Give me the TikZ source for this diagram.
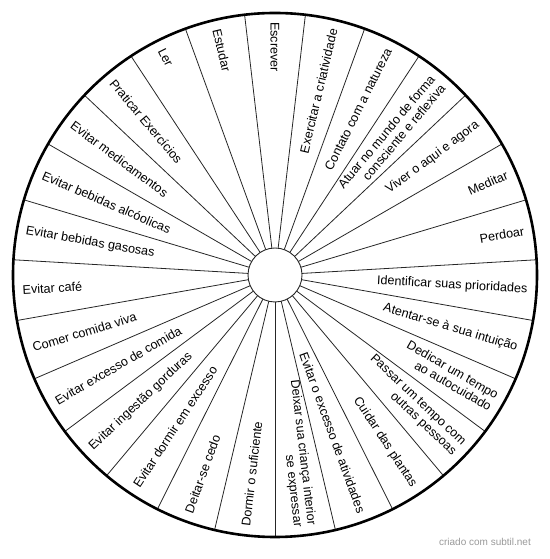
\documentclass[tikz,border=0pt]{standalone}
\usepackage{fontspec}
\setmainfont{Liberation Sans}
\begin{document}
\begin{tikzpicture}[x=1bp,y=1bp,
  lbl/.style={font=\fontsize{12.6bp}{13.8bp}\selectfont, inner sep=0pt},
  outw/.style={lbl, anchor=east, align=right},
  inw/.style={lbl, anchor=west, align=left},
  spoke/.style={line width=0.8bp, draw=black!85},
  rim/.style={line width=2.6bp, draw=black},
  hub/.style={line width=0.9bp, draw=black!85, fill=white}]
\useasboundingbox (0,0) rectangle (550,559);
\begin{scope}[shift={(275,284)}]
  \foreach \k in {0,...,26}
    \draw[spoke] (3.3333+13.3333*\k:27) -- (3.3333+13.3333*\k:262);
  \draw[rim] (0,0) circle[radius=262];
  \draw[hub] (0,0) circle[radius=27];
  \def\R{253}
  \node[outw,rotate=10]       (t0)  at (10:\R)       {Perdoar};
  \node[outw,rotate=23.333]   (t1)  at (23.333:\R)   {Meditar};
  \node[outw,rotate=36.667]   (t2)  at (36.667:\R)   {Viver o aqui e agora};
  \node[outw,rotate=50]       (t3)  at (50:\R)       {Atuar no mundo de forma\\consciente e reflexiva};
  \node[outw,rotate=63.333]   (t4)  at (63.333:\R)   {Contato com a natureza};
  \node[outw,rotate=76.667]   (t5)  at (76.667:\R)   {Exercitar a criatividade};
  \node[inw,rotate=270]       (t6)  at (90:\R)       {Escrever};
  \node[inw,rotate=283.333]   (t7)  at (103.333:\R)  {Estudar};
  \node[inw,rotate=296.667]   (t8)  at (116.667:\R)  {Ler};
  \node[inw,rotate=310]       (t9)  at (130:\R)      {Praticar Exercícios};
  \node[inw,rotate=323.333]   (t10) at (143.333:\R)  {Evitar medicamentos};
  \node[inw,rotate=336.667]   (t11) at (156.667:\R)  {Evitar bebidas alcóolicas};
  \node[inw,rotate=350]       (t12) at (170:\R)      {Evitar bebidas gasosas};
  \node[inw,rotate=3.333]     (t13) at (183.333:\R)  {Evitar café};
  \node[inw,rotate=16.667]    (t14) at (196.667:\R)  {Comer comida viva};
  \node[inw,rotate=30]        (t15) at (210:\R)      {Evitar excesso de comida};
  \node[inw,rotate=43.333]    (t16) at (223.333:\R)  {Evitar ingestão gorduras};
  \node[inw,rotate=56.667]    (t17) at (236.667:\R)  {Evitar dormir em excesso};
  \node[inw,rotate=70]        (t18) at (250:\R)      {Deitar-se cedo};
  \node[inw,rotate=83.333]    (t19) at (263.333:\R)  {Dormir o suficiente};
  \node[outw,rotate=276.667]  (t20) at (276.667:\R)  {Deixar sua criança interior\\se expressar};
  \node[outw,rotate=290]      (t21) at (290:\R)      {Evitar o excesso de atividades};
  \node[outw,rotate=303.333]  (t22) at (303.333:\R)  {Cuidar das plantas};
  \node[outw,rotate=316.667]  (t23) at (316.667:\R)  {Passar um tempo com\\outras pessoas};
  \node[outw,rotate=330]      (t24) at (330:\R)      {Dedicar um tempo\\ao autocuidado};
  \node[outw,rotate=343.333]  (t25) at (343.333:\R)  {Atentar-se à sua intuição};
  \node[outw,rotate=356.667]  (t26) at (356.667:\R)  {Identificar suas prioridades};
\end{scope}
\node[font=\fontsize{10bp}{12bp}\selectfont, text=black!40, anchor=east, inner sep=0pt] (wm) at (531,17) {criado com subtil.net};
\end{tikzpicture}
\end{document}
